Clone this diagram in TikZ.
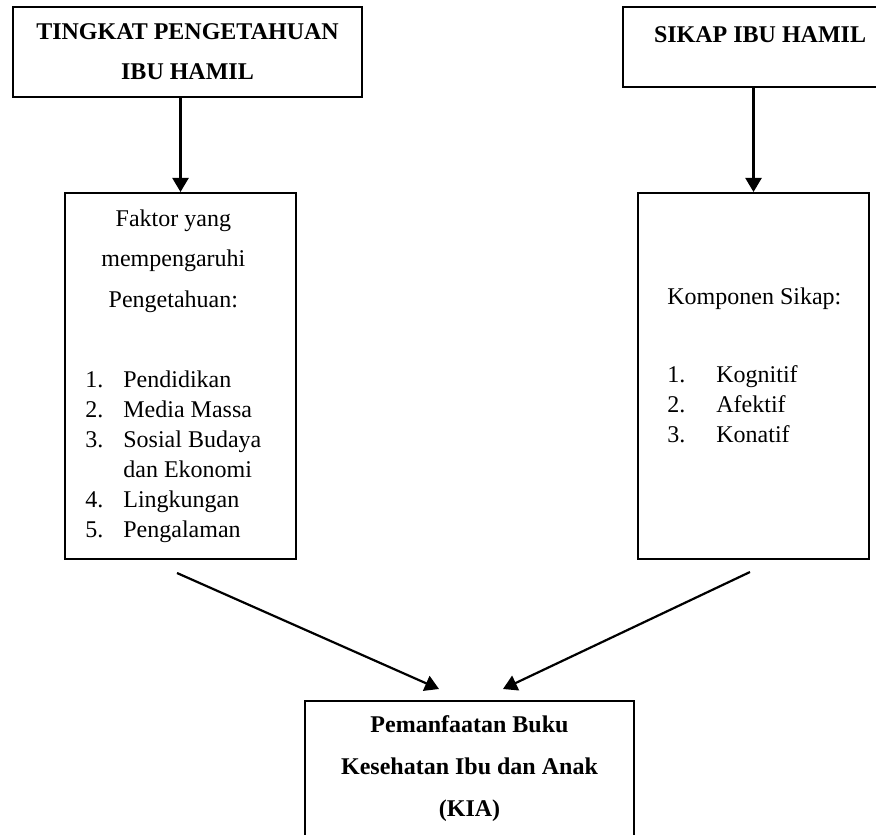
\documentclass[tikz,border=0pt]{standalone}
\usepackage{fontspec}
\setmainfont{Liberation Serif}
\usetikzlibrary{arrows.meta}
\tikzstyle{kotak} = [rectangle, draw=black, line width=1pt, inner sep=0pt, text centered]
\tikzstyle{judul} = [font=\fontsize{12}{15}\selectfont\bfseries, align=center]
\tikzstyle{isi} = [font=\fontsize{12}{15}\selectfont, inner sep=0pt, anchor=north west]
\tikzstyle{panah} = [line width=1.1pt, -{Triangle[length=7pt,width=8pt]}]

\begin{document}
\begin{tikzpicture}[x=0.5pt, y=-0.5pt]
			\useasboundingbox (0,0) rectangle (876,834);
			\clip (0,0) rectangle (876,834);
			
			% Baris 1
			\node (pengetahuan) [kotak, judul, minimum width=174.5pt, minimum height=45pt] at (187.5,52) {TINGKAT PENGETAHUAN\\[5pt]IBU HAMIL};
			\node (sikap) [kotak, minimum width=137pt, minimum height=40pt] at (760,47) {};
			\node (sikapteks) [judul] at (760,35) {SIKAP IBU HAMIL};
			
			% Baris 2
			\node (faktor) [kotak, minimum width=115.5pt, minimum height=183pt] at (180.5,376) {};
			\node (faktorteks) [isi] at (85,205) {\begin{tabular}{@{}l@{\hspace{10pt}}l@{}}
					\multicolumn{2}{c}{Faktor yang}\\[5.25pt]
					\multicolumn{2}{c}{mempengaruhi}\\[5.25pt]
					\multicolumn{2}{c}{Pengetahuan:}\\[25pt]
					1. & Pendidikan\\
					2. & Media Massa\\
					3. & Sosial Budaya\\
					   & dan Ekonomi\\
					4. & Lingkungan\\
					5. & Pengalaman
				\end{tabular}};
			\node (komponen) [kotak, minimum width=115.5pt, minimum height=183pt] at (753.5,376) {};
			\node (komponenteks) [isi] at (667,283) {\begin{tabular}{@{}l@{\hspace{15.5pt}}l@{}}
					\multicolumn{2}{@{}l@{}}{Komponen Sikap:}\\[24pt]
					1. & Kognitif\\
					2. & Afektif\\
					3. & Konatif
				\end{tabular}};
			
			% Baris 3
			\node (kia) [kotak, judul, minimum width=164.5pt, minimum height=68pt] at (469.5,769) {Pemanfaatan Buku\\[6pt]Kesehatan Ibu dan Anak\\[6pt](KIA)};
			
			% Ujung panah miring
			\coordinate (ujungkiri) at (177,573);
			\coordinate (ujungkanan) at (750,572);
			\coordinate (masukkiri) at (439,689);
			\coordinate (masukkanan) at (503,689);
			
			% Panah vertikal
			\draw [panah] (faktor.north |- pengetahuan.south) -- (faktor.north);
			\draw [panah] (komponen.north |- sikap.south) -- (komponen.north);
			
			% Panah miring ke KIA
			\draw [panah] (ujungkiri) -- (masukkiri);
			\draw [panah] (ujungkanan) -- (masukkanan);
			
		\end{tikzpicture}
\end{document}
